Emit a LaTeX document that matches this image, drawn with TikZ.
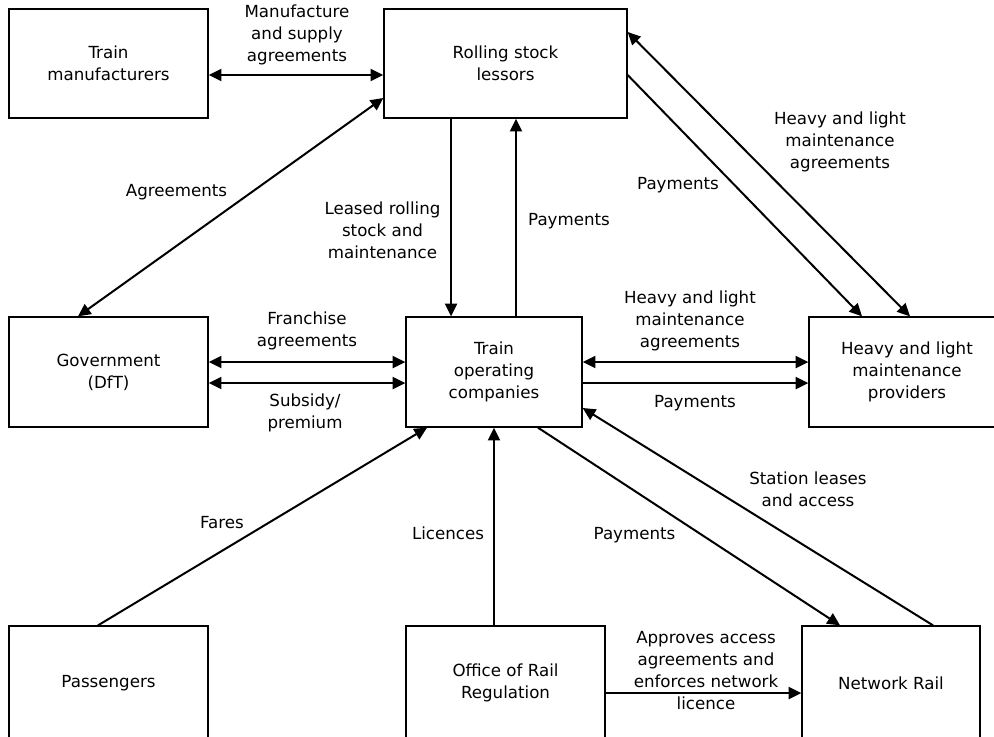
\documentclass[tikz,border=0pt]{standalone}
\usepackage{fontspec}
\setmainfont{DejaVu Sans}
\usetikzlibrary{arrows.meta}
\usetikzlibrary{calc}

\begin{document}
\begin{tikzpicture}[x=0.75pt, y=-0.75pt,
		every node/.style={font=\fontsize{12.5}{16.5}\selectfont},
		box/.style 2 args={draw, line width=1pt, inner sep=0pt, align=center,
			minimum width=#1*0.75pt, minimum height=#2*0.75pt},
		lbl/.style={align=center},
		oneway/.style={line width=1.5pt, -{Triangle[length=9.5pt,width=9pt]}},
		twoway/.style={line width=1.5pt, {Triangle[length=9.5pt,width=9pt]}-{Triangle[length=9.5pt,width=9pt]}}]
	\useasboundingbox (0,0) rectangle (994,736);
	\clip (0,0) rectangle (994,736);
	% boxes
	\node[box={199}{109}] (tm) at (108.5,63.5) {Train\\manufacturers};
	\node[box={243}{109}] (rsl) at (505.5,63.5) {Rolling stock\\lessors};
	\node[box={199}{110}] (gov) at (108.5,372) {Government\\(DfT)};
	\node[box={176}{110}] (toc) at (494,372) {Train\\operating\\companies};
	\node[box={196}{110}] (hlm) at (907,372) {Heavy and light\\maintenance\\providers};
	\node[box={199}{114}] (pas) at (108.5,683) {Passengers};
	\node[box={199}{114}] (orr) at (505.5,683) {Office of Rail\\Regulation};
	\node[box={178}{114}] (nr) at (891,683) {Network Rail};
	% connectors
	\draw[twoway] ($(tm.east)+(0,11.5)$) -- ($(rsl.west)+(0,11.5)$);
	\draw[twoway] ($(rsl.west)+(0,34.5)$) -- ($(gov.north)+(-30.5,0)$);
	\draw[oneway] ($(rsl.south)+(-54.5,0)$) -- ($(toc.north)+(-43,0)$);
	\draw[oneway] ($(toc.north)+(22,0)$) -- ($(rsl.south)+(10.5,0)$);
	\draw[oneway] ($(rsl.east)+(0,11.5)$) -- ($(hlm.north)+(-45,0)$);
	\draw[twoway] ($(rsl.east)+(0,-31.5)$) -- ($(hlm.north)+(3,0)$);
	\draw[twoway] ($(gov.east)+(0,-10)$) -- ($(toc.west)+(0,-10)$);
	\draw[twoway] ($(gov.east)+(0,11)$) -- ($(toc.west)+(0,11)$);
	\draw[twoway] ($(toc.east)+(0,-10)$) -- ($(hlm.west)+(0,-10)$);
	\draw[oneway] ($(toc.east)+(0,11)$) -- ($(hlm.west)+(0,11)$);
	\draw[oneway] ($(pas.north)+(-10.5,0)$) -- ($(toc.south)+(-67,0)$);
	\draw[oneway] ($(orr.north)+(-11.5,0)$) -- (toc.south);
	\draw[oneway] ($(toc.south)+(44,0)$) -- ($(nr.north)+(-51,0)$);
	\draw[oneway] ($(nr.north)+(42,0)$) -- ($(toc.east)+(0,36)$);
	\draw[oneway] ($(orr.east)+(0,10)$) -- ($(nr.west)+(0,10)$);
	% labels
	\node[lbl] (l-supply) at (297,35) {Manufacture\\and supply\\agreements};
	\node[lbl] (l-agree) at (176.5,192) {Agreements};
	\node[lbl] (l-leased) at (382.5,230) {Leased rolling\\stock and\\maintenance};
	\node[lbl] (l-payrsl) at (569,221) {Payments};
	\node[lbl] (l-payhlm) at (678,185) {Payments};
	\node[lbl] (l-hlmrsl) at (840,142) {Heavy and light\\maintenance\\agreements};
	\node[lbl] (l-franch) at (307,331) {Franchise\\agreements};
	\node[lbl] (l-subsidy) at (305,413) {Subsidy/\\premium};
	\node[lbl] (l-hlmtoc) at (690,321) {Heavy and light\\maintenance\\agreements};
	\node[lbl] (l-paytoc) at (695,403) {Payments};
	\node[lbl] (l-fares) at (222,523) {Fares};
	\node[lbl] (l-lic) at (448,533) {Licences};
	\node[lbl] (l-paynr) at (634.5,535) {Payments};
	\node[lbl] (l-station) at (808,489) {Station leases\\and access};
	\node[lbl] (l-approve) at (706,671) {Approves access\\agreements and\\enforces network\\licence};
\end{tikzpicture}
\end{document}
